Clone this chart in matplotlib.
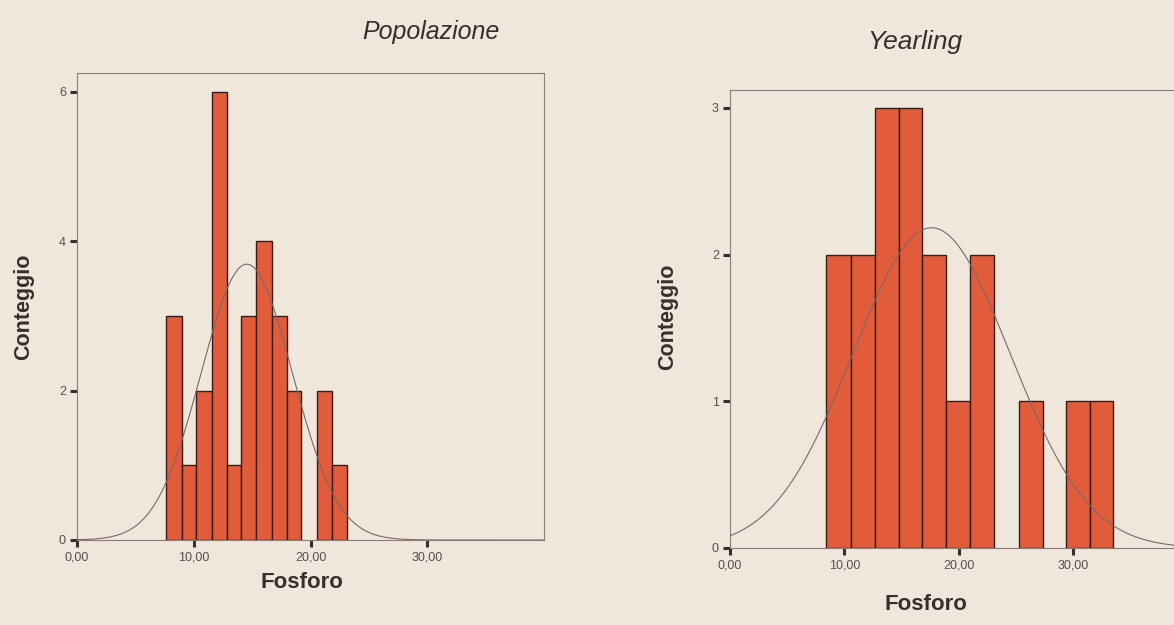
import numpy as np
from matplotlib import pyplot as plt

# Popolazione: bin edges and counts
pop_edges = [7.63, 8.97, 10.2, 11.57, 12.83, 14.05, 15.34, 16.68, 17.97, 19.2, 20.54, 21.85, 23.1]
pop_counts = [3, 1, 2, 6, 1, 3, 4, 3, 2, 0, 2, 1]
pop_mean = 14.54
pop_sd = 3.9

# Yearling
yr_edges = [8.38, 10.54, 12.66, 14.76, 16.8, 18.9, 20.96, 23.06, 25.27, 27.37, 29.35, 31.44, 33.48]
yr_counts = [2, 2, 3, 3, 2, 1, 2, 0, 1, 0, 1, 1]
yr_mean = 17.6
yr_sd = 6.88

x_ticks = [0, 10, 20, 30]
x_tick_labels = ["0,00", "10,00", "20,00", "30,00"]
pop_y_ticks = [0, 2, 4, 6]
yr_y_ticks = [0, 1, 2, 3]

BG = "#efe6dc"
BAR = "#e25c3c"
EDGE = "#3a1c14"
FRAME = "#8c7c78"
CURVE = "#7a6866"
TEXT = "#3a2e2c"
TICKTXT = "#5a4e4c"

plt.rcParams["font.family"] = ["Liberation Sans", "DejaVu Sans"]


def draw_hist(ax, edges, counts, mean, sd, ymax, yticks):
    """Histogram with SPSS-style normal curve."""
    edges = np.array(edges)
    counts = np.array(counts)
    widths = np.diff(edges)
    keep = counts > 0
    ax.bar(edges[:-1][keep], counts[keep], width=widths[keep], align="edge",
           color=BAR, edgecolor=EDGE, linewidth=1.0, zorder=2)

    # normal curve scaled to counts
    xs = np.linspace(0, 40, 400)
    scale = counts.sum() * widths.mean()
    ys = scale / (sd * np.sqrt(2 * np.pi)) * np.exp(-0.5 * ((xs - mean) / sd) ** 2)
    ax.plot(xs, ys, color=CURVE, linewidth=0.8, zorder=3)

    ax.set_xlim(0, 40)
    ax.set_ylim(0, ymax)
    ax.set_facecolor(BG)
    ax.set_xticks(x_ticks)
    ax.set_xticklabels(x_tick_labels)
    ax.set_yticks(yticks)
    ax.set_yticklabels([str(t) for t in yticks])
    ax.tick_params(direction="out", length=5, width=2.2, color=TEXT,
                   labelsize=9, labelcolor=TICKTXT, pad=3)
    for s in ax.spines.values():
        s.set_color(FRAME)
        s.set_linewidth(0.8)


fig = plt.figure(figsize=(11.74, 6.25), dpi=100)
fig.patch.set_facecolor(BG)

ax1 = fig.add_axes([0.0656, 0.136, 0.3978, 0.747])
draw_hist(ax1, pop_edges, pop_counts, pop_mean, pop_sd, 6.25, pop_y_ticks)

ax2 = fig.add_axes([0.6218, 0.1232, 0.3901, 0.7323])
draw_hist(ax2, yr_edges, yr_counts, yr_mean, yr_sd, 3.12, yr_y_ticks)

# Titles and labels
fig.text(431 / 1174, 1 - 39 / 625, "Popolazione", style="italic", fontsize=18,
         color=TEXT, ha="center", va="baseline")
fig.text(915 / 1174, 1 - 49 / 625, "Yearling", style="italic", fontsize=19,
         color=TEXT, ha="center", va="baseline")
fig.text(302 / 1174, 1 - 582 / 625, "Fosforo", fontweight="bold", fontsize=16,
         color=TEXT, ha="center", va="center")
fig.text(926 / 1174, 1 - 604 / 625, "Fosforo", fontweight="bold", fontsize=16,
         color=TEXT, ha="center", va="center")
fig.text(24 / 1174, 1 - 307 / 625, "Conteggio", fontweight="bold", fontsize=15.5,
         color=TEXT, ha="center", va="center", rotation=90)
fig.text(668 / 1174, 1 - 317 / 625, "Conteggio", fontweight="bold", fontsize=15.5,
         color=TEXT, ha="center", va="center", rotation=90)

plt.savefig("out.png", dpi=100, facecolor=BG)
